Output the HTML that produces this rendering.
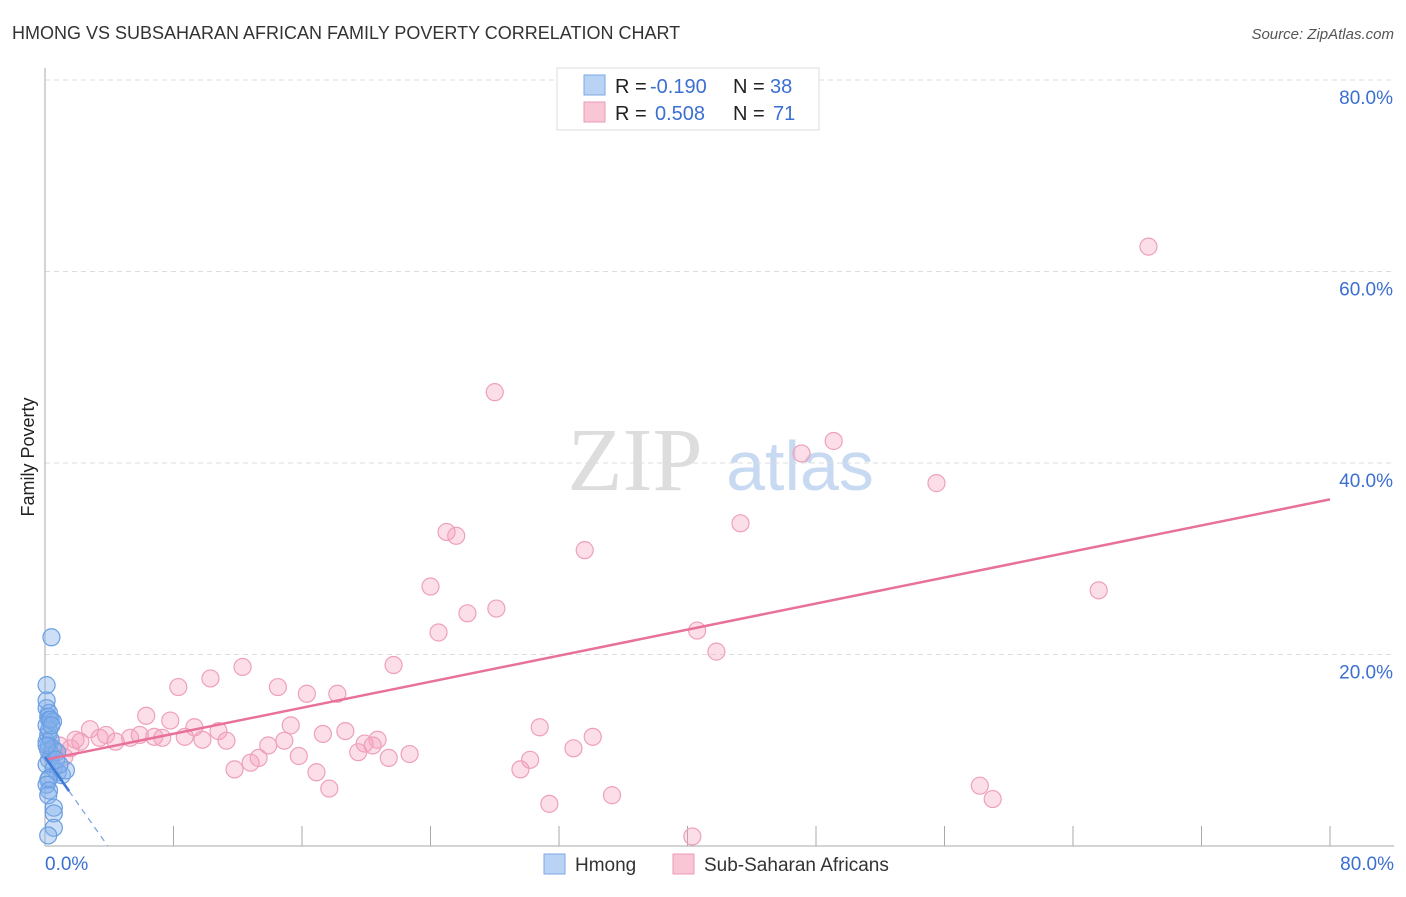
<!DOCTYPE html>
<html><head><meta charset="utf-8"><style>
body{margin:0;background:#fff;font-family:"Liberation Sans",sans-serif;}
</style></head><body>
<svg width="1406" height="892" xmlns="http://www.w3.org/2000/svg" id="chart">
<text x="12" y="39" font-size="18" fill="#333">HMONG VS SUBSAHARAN AFRICAN FAMILY POVERTY CORRELATION CHART</text>
<text x="1394" y="39" font-size="15" fill="#555" font-style="italic" text-anchor="end">Source: ZipAtlas.com</text>
<text x="34" y="457" font-size="18" fill="#222" transform="rotate(-90 34 457)" text-anchor="middle">Family Poverty</text>
<g>
<text x="635" y="490" font-size="90" fill="#ddd" font-family="Liberation Serif,serif" text-anchor="middle">ZIP</text>
<text x="800" y="490" font-size="70" fill="#c8daf2" text-anchor="middle">atlas</text>
</g>
<g id="grid"></g><g id="axes"></g><g id="pink"></g><g id="blue"></g><g id="trends"></g>
<g>
<rect x="557" y="68" width="262" height="62" fill="#fff" stroke="#ddd"/>
<rect x="584" y="75" width="21" height="20" fill="#b9d3f5" stroke="#7aa7e4"/>
<rect x="584" y="102" width="21" height="20" fill="#f9c6d6" stroke="#ec9ab5"/>
<text x="615" y="93" font-size="20" fill="#222">R =</text>
<text x="650" y="93" font-size="20" fill="#3b6fd1">-0.190</text>
<text x="733" y="93" font-size="20" fill="#222">N =</text>
<text x="770" y="93" font-size="20" fill="#3b6fd1">38</text>
<text x="615" y="120" font-size="20" fill="#222">R =</text>
<text x="655" y="120" font-size="20" fill="#3b6fd1">0.508</text>
<text x="733" y="120" font-size="20" fill="#222">N =</text>
<text x="773" y="120" font-size="20" fill="#3b6fd1">71</text>
</g>
<g>
<rect x="544" y="854" width="21" height="20" fill="#b9d3f5" stroke="#7aa7e4"/>
<text x="575" y="871" font-size="19" fill="#333">Hmong</text>
<rect x="673" y="854" width="21" height="20" fill="#f9c6d6" stroke="#ec9ab5"/>
<text x="704" y="871" font-size="19" fill="#333">Sub-Saharan Africans</text>
</g>
</svg>
<script>
const yTicks=[20,40,60,80];
const yTickLabels=["20.0%","40.0%","60.0%","80.0%"];
const xTickLabels=["0.0%","80.0%"];
const pinkX=[68.7,28.0,49.1,47.1,55.5,43.3,25.0,25.6,33.6,24.0,65.6,28.1,26.3,24.5,40.6,41.8,12.3,21.7,10.3,8.3,14.5,16.3,18.2,6.3,7.8,9.3,15.3,10.8,18.7,17.3,30.8,34.1,2.8,3.8,5.3,6.8,7.3,8.7,9.8,11.3,13.9,14.9,20.7,19.9,20.4,32.9,22.7,21.4,19.5,15.8,13.3,12.8,11.8,16.9,29.6,30.2,58.2,59.0,17.7,31.4,35.3,40.3,0.9,1.6,2.2,1.9,1.2,0.6,4.4,5.9,3.4];
const pinkY=[62.6,47.4,42.3,41.0,37.9,33.7,32.8,32.4,30.9,27.1,26.7,24.8,24.3,22.3,22.5,20.3,18.7,18.9,17.5,16.6,16.6,15.9,15.9,13.6,13.1,12.4,12.6,12.0,12.0,11.7,12.4,11.4,12.2,11.6,11.3,11.4,11.3,11.4,11.1,11.0,10.5,11.0,11.1,10.7,10.5,10.2,9.6,9.2,9.8,9.4,9.2,8.7,8.0,7.7,8.0,9.0,6.3,4.9,6.0,4.4,5.3,1.0,10.5,10.2,10.9,11.1,9.3,10.0,10.9,11.6,11.3];
const blueX=[0.4,0.1,0.1,0.25,0.2,0.25,0.1,0.2,0.1,0.25,0.2,0.4,0.25,0.1,0.55,0.8,1.05,0.25,0.2,0.1,0.25,0.2,0.55,0.55,0.55,0.2,0.1,0.5,0.25,0.35,0.5,0.75,1.3,0.7,0.9,0.35,0.1,0.4];
const blueY=[21.8,16.8,14.4,13.9,13.5,13.2,12.6,11.6,10.9,10.5,10.0,9.5,9.0,8.5,8.1,7.7,7.4,7.1,6.9,6.4,5.8,5.3,4.0,3.4,1.9,1.1,15.2,13.0,12.1,11.1,10.2,9.8,7.9,9.0,8.5,13.2,10.5,12.6];
const pinkTrend=[9.0,36.2];
const blueIntercept=9.3;
const blueSlope=-2.38;
const NS="http://www.w3.org/2000/svg";
const X=v=>45+v/80*1285, Y=v=>846-v/80*766;
function mk(tag,attrs,parent){const e=document.createElementNS(NS,tag);for(const k in attrs)e.setAttribute(k,attrs[k]);document.getElementById(parent).appendChild(e);return e;}
yTicks.forEach((t,i)=>{
 const l=mk('line',{x1:45,x2:1394,y1:Y(t),y2:Y(t),stroke:'#ddd','stroke-dasharray':'5,4'},'grid');
 
 
 const tx=mk('text',{x:1393,y:Y(t)+24,'font-size':19,fill:'#3b6fd1','text-anchor':'end'},'grid');
 tx.textContent=yTickLabels[i];
 
 
});
const ax=mk('line',{x1:45,x2:45,y1:68,y2:846,stroke:'#aaa'},'axes');


const bx=mk('line',{x1:45,x2:1394,y1:846,y2:846,stroke:'#aaa'},'axes');


for(let i=1;i<=10;i++){const t=mk('line',{x1:X(i*8),x2:X(i*8),y1:826,y2:846,stroke:'#aaa'},'axes');
 
 }
[[0,'start',45],[80,'end',1394]].forEach((d,i)=>{const t=mk('text',{x:d[2],y:870,'font-size':19,fill:'#3b6fd1','text-anchor':d[1]},'axes');t.textContent=xTickLabels[i];
 
 });
pinkX.forEach((v,i)=>{const c=mk('circle',{cx:X(v),cy:Y(pinkY[i]),r:8.5,fill:'rgba(246,160,190,0.35)',stroke:'#eea0bb','stroke-width':1.2},'pink');
 
 });
blueX.forEach((v,i)=>{const c=mk('circle',{cx:X(v),cy:Y(blueY[i]),r:8.5,fill:'rgba(130,175,235,0.4)',stroke:'#6b9fe2','stroke-width':1.2},'blue');
 
 });
const pt=mk('line',{x1:X(0),y1:Y(pinkTrend[0]),x2:X(80),y2:Y(pinkTrend[1]),stroke:'#e8719b','stroke-width':2.5},'trends');


const b0=blueIntercept;
const bt1=mk('line',{x1:X(0),y1:Y(b0),x2:X(1.5),y2:Y(b0+blueSlope*1.5),stroke:'#3d7ad8','stroke-width':2.5},'trends');


const bt2=mk('line',{x1:X(1.5),y1:Y(b0+blueSlope*1.5),x2:X(-b0/blueSlope),y2:Y(0),stroke:'#7aa3e0','stroke-width':1.2,'stroke-dasharray':'6,5'},'trends');


</script>
</body></html>
